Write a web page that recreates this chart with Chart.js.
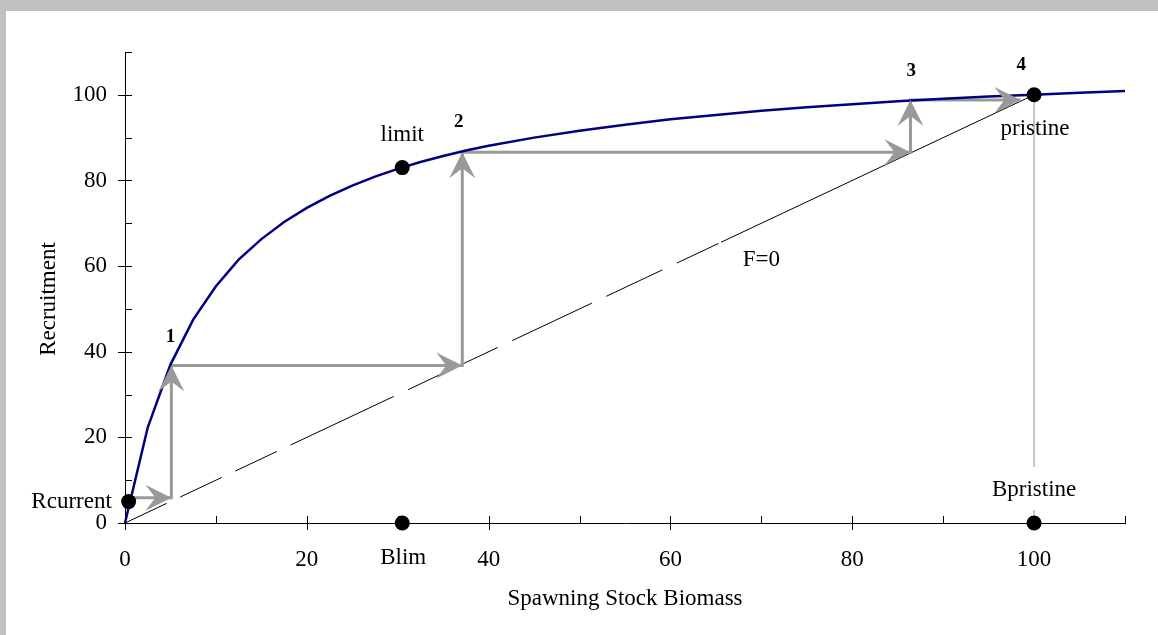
<!DOCTYPE html>
<html>
<head>
<meta charset="utf-8">
<script src="https://cdn.jsdelivr.net/npm/chart.js@4.4.1/dist/chart.umd.min.js"></script>
<style>
  html, body { margin: 0; padding: 0; background: #c0c0c0; }
  body { width: 1158px; height: 635px; overflow: hidden; position: relative; }
  #panel { position: absolute; left: 6px; top: 11px; width: 1152px; height: 624px; background: #fff; }
  #chart { display: block; }
</style>
</head>
<body>
<div id="panel"><canvas id="chart" width="1152" height="624"></canvas></div>
<script>
// curva stock-recruitment
const curveS = [0, 2.5, 5, 7.5, 10, 12.5, 15, 17.5, 20, 22.5, 25, 27.5, 30, 32.5, 35, 37.5, 40,
                45, 50, 55, 60, 65, 70, 75, 80, 85, 90, 95, 100, 105, 110];
const curveR = [0, 22.3, 37, 47.5, 55.3, 61.5, 66.3, 70.3, 73.6, 76.4, 78.8, 80.9, 82.7, 84.3, 85.7, 87.0, 88.1,
                90.0, 91.6, 93.0, 94.3, 95.3, 96.3, 97.1, 97.8, 98.5, 99.1, 99.6, 100, 100.5, 100.9];
// linea di rimpiazzo F=0
const replS = [0, 100];
const replR = [0, 100];
// scalini con frecce
const stairS = [0.4, 5.1, 5.1, 37.1, 37.1, 86.4, 86.4, 98.5];
const stairR = [5.9, 5.9, 36.8, 36.8, 86.6, 86.6, 98.8, 98.8];
// punti neri: Rcurrent, limit, pristine, Blim, Bpristine
const dotS = [0.4, 30.5, 100, 30.5, 100];
const dotR = [5, 83, 100, 0, 0];
// linea verticale a Bpristine
const vlineS = [100, 100];
const vlineR = [100, 0];
const xLabelled = [0, 20, 40, 60, 80, 100];
const yLabelled = [0, 20, 40, 60, 80, 100];

const SERIF = "'Liberation Serif', 'Times New Roman', serif";

// etichette di testo (coordinate in unità dei dati, baseline)
const notes = [
    { text: '1', s: 5.0, r: 42.2, bold: true },
    { text: '2', s: 36.7, r: 92.4, bold: true },
    { text: '3', s: 86.5, r: 104.5, bold: true },
    { text: '4', s: 98.6, r: 105.9, bold: true },
    { text: 'limit', s: 30.5, r: 89.3 },
    { text: 'pristine', s: 100.1, r: 90.5 },
    { text: 'Rcurrent', s: -1.45, r: 3.4, align: 'right' },
    { text: 'Bpristine', s: 100, r: 6.3, box: true },
    { text: 'Blim', s: 30.6, r: -9.6 },
    { text: 'F=0', s: 70, r: 60.0 }
];

const pts = (xs, ys) => xs.map((x, i) => ({ x: x, y: ys[i] }));

// tacche: maggiori attraversano l'asse, minori solo verso l'interno
const tickMarks = {
    id: 'tickMarks',
    afterDraw(chart) {
        const ctx = chart.ctx;
        const xs = chart.scales.x, ys = chart.scales.y;
        const a = chart.chartArea;
        ctx.save();
        ctx.strokeStyle = '#000';
        ctx.lineWidth = 1;
        ctx.beginPath();
        xs.ticks.forEach(t => {
            const px = Math.round(xs.getPixelForValue(t.value)) + 0.5;
            const major = xLabelled.includes(t.value);
            ctx.moveTo(px, a.bottom - 7);
            ctx.lineTo(px, major ? a.bottom + 7 : a.bottom);
        });
        ys.ticks.forEach(t => {
            const py = Math.round(ys.getPixelForValue(t.value)) + 0.5;
            const major = yLabelled.includes(t.value);
            ctx.moveTo(major ? a.left - 7 : a.left, py);
            ctx.lineTo(a.left + 7, py);
        });
        ctx.stroke();

        // titoli assi
        ctx.fillStyle = '#000';
        ctx.font = '23px ' + SERIF;
        ctx.textAlign = 'center';
        ctx.textBaseline = 'alphabetic';
        ctx.fillText('Spawning Stock Biomass', (a.left + a.right) / 2, a.bottom + 82);
        ctx.translate(a.left - 70, (a.top + a.bottom) / 2 + 11.5);
        ctx.rotate(-Math.PI / 2);
        ctx.fillText('Recruitment', 0, 0);
        ctx.restore();
    }
};

// punte di freccia (stile "stealth") alla fine di ogni tratto
const arrowHeads = {
    id: 'arrowHeads',
    afterDatasetsDraw(chart) {
        const ctx = chart.ctx;
        const xs = chart.scales.x, ys = chart.scales.y;
        const L = 26, W = 13, N = 16;
        ctx.save();
        ctx.fillStyle = '#999999';
        for (let i = 1; i < stairS.length; i++) {
            const x0 = xs.getPixelForValue(stairS[i - 1]), y0 = ys.getPixelForValue(stairR[i - 1]);
            const x1 = xs.getPixelForValue(stairS[i]), y1 = ys.getPixelForValue(stairR[i]);
            const len = Math.hypot(x1 - x0, y1 - y0);
            const dx = (x1 - x0) / len, dy = (y1 - y0) / len;
            const px = -dy, py = dx;
            ctx.beginPath();
            ctx.moveTo(x1, y1);
            ctx.lineTo(x1 - L * dx + W * px, y1 - L * dy + W * py);
            ctx.lineTo(x1 - N * dx, y1 - N * dy);
            ctx.lineTo(x1 - L * dx - W * px, y1 - L * dy - W * py);
            ctx.closePath();
            ctx.fill();
        }
        ctx.restore();
    }
};

// testi sul grafico
const noteLabels = {
    id: 'noteLabels',
    afterDatasetsDraw(chart) {
        const ctx = chart.ctx;
        const xs = chart.scales.x, ys = chart.scales.y;
        ctx.save();
        ctx.textBaseline = 'alphabetic';
        notes.forEach(n => {
            const x = xs.getPixelForValue(n.s), y = ys.getPixelForValue(n.r);
            ctx.font = n.bold ? 'bold 19px ' + SERIF : '23px ' + SERIF;
            ctx.textAlign = n.align || 'center';
            if (n.box) {
                const w = ctx.measureText(n.text).width;
                ctx.fillStyle = '#fff';
                ctx.fillRect(x - w / 2 - 2, y - 29, w + 4, 43);
            }
            ctx.fillStyle = '#000';
            ctx.fillText(n.text, x, y);
        });
        ctx.restore();
    }
};

const tickFont = { family: SERIF, size: 23 };

new Chart(document.getElementById('chart'), {
    type: 'scatter',
    data: {
        datasets: [
            {
                label: 'punti',
                data: pts(dotS, dotR),
                pointRadius: 7.5,
                pointBackgroundColor: '#000',
                pointBorderWidth: 0,
                showLine: false,
                clip: false,
                order: 0
            },
            {
                label: 'SRR',
                data: pts(curveS, curveR),
                showLine: true,
                borderColor: '#000080',
                borderWidth: 2.5,
                pointRadius: 0,
                tension: 0,
                clip: false,
                order: 1
            },
            {
                label: 'scalini',
                data: pts(stairS, stairR),
                showLine: true,
                borderColor: '#999999',
                borderWidth: 3,
                pointRadius: 0,
                tension: 0,
                clip: false,
                order: 2
            },
            {
                label: 'F=0',
                data: pts(replS, replR),
                showLine: true,
                borderColor: '#000',
                borderWidth: 1,
                borderDash: [46, 15, 46, 15, 46, 15, 114, 16, 99, 16, 88, 16, 62, 16, 46, 3, 2000],
                pointRadius: 0,
                order: 3
            },
            {
                label: 'Bpristine',
                data: pts(vlineS, vlineR),
                showLine: true,
                borderColor: '#c0c0c0',
                borderWidth: 1,
                pointRadius: 0,
                order: 4
            }
        ]
    },
    options: {
        responsive: false,
        animation: false,
        devicePixelRatio: 1,
        layout: { padding: { left: 0, right: 33, top: 41, bottom: 52 } },
        plugins: {
            legend: { display: false },
            tooltip: { enabled: false }
        },
        scales: {
            x: {
                type: 'linear',
                min: 0,
                max: 110,
                afterFit: s => { s.height = 60; },
                grid: { drawOnChartArea: false, drawTicks: false },
                border: { color: '#000', width: 1 },
                ticks: {
                    stepSize: 10,
                    autoSkip: false,
                    maxRotation: 0,
                    padding: 23,
                    color: '#000',
                    font: tickFont,
                    callback: v => xLabelled.includes(v) ? String(v) : ''
                }
            },
            y: {
                type: 'linear',
                min: 0,
                max: 110,
                afterFit: s => { s.width = 119; },
                grid: { drawOnChartArea: false, drawTicks: false },
                border: { color: '#000', width: 1 },
                ticks: {
                    stepSize: 10,
                    autoSkip: false,
                    padding: 18,
                    color: '#000',
                    font: tickFont,
                    callback: v => yLabelled.includes(v) ? String(v) : ''
                }
            }
        }
    },
    plugins: [tickMarks, arrowHeads, noteLabels]
});
</script>
</body>
</html>
